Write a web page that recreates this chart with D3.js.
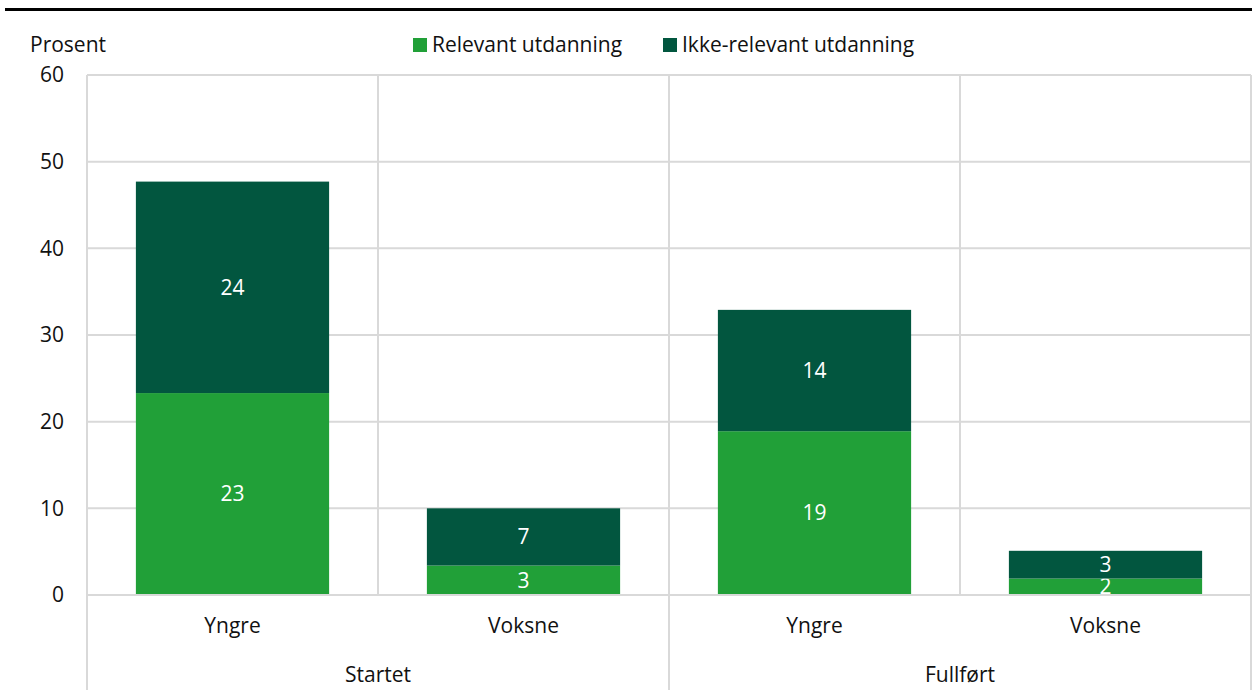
<!DOCTYPE html>
<meta charset="utf-8">
<script src="https://d3js.org/d3.v7.min.js"></script>
<style>
  body { margin: 0; background: #fff; }
  svg { font-family: "Open Sans", "Noto Sans", sans-serif; display: block; }
  .grid line { stroke: #d9d9d9; stroke-width: 2px; }
  .axis text { font-family: "Open Sans", "Noto Sans", sans-serif; font-size: 21px; fill: #111; }
  .barLabel { font-size: 21px; fill: #fff; text-anchor: middle; }
</style>
<body></body>
<script>

// data
var groups = ["Startet", "Fullført"];
var categories = ["Yngre", "Voksne"];
var relevant = [23.3, 3.4, 18.9, 1.9];
var ikkeRelevant = [24.4, 6.6, 14.0, 3.2];
var seriesNames = ["Relevant utdanning", "Ikke-relevant utdanning"];
var colors = ["#21a038", "#02563f"];
var yTicks = [0, 10, 20, 30, 40, 50, 60];

var W = 1252, H = 690;
var margin = {top: 75, right: 1, bottom: 95, left: 87};
var width = W - margin.left - margin.right,
    height = H - margin.top - margin.bottom;

var svg = d3.select("body").append("svg")
    .attr("width", W)
    .attr("height", H);

// top rule
svg.append("line")
  .attr("x1", 5).attr("x2", W)
  .attr("y1", 9.5).attr("y2", 9.5)
  .style("stroke", "#000").style("stroke-width", 3);

var g = svg.append("g")
  .attr("transform", "translate(" + margin.left + "," + margin.top + ")");

// build flat rows
var rows = [];
groups.forEach(function(gr, i) {
  categories.forEach(function(c, j) {
    var k = i * categories.length + j;
    rows.push({key: gr + "|" + c, group: gr, cat: c, rel: relevant[k], ikke: ikkeRelevant[k]});
  });
});

var x = d3.scaleBand()
  .domain(rows.map(function(d) { return d.key; }))
  .range([0, width])
  .paddingInner(0)
  .paddingOuter(0);

var xGroup = d3.scaleBand()
  .domain(groups)
  .range([0, width]);

var y = d3.scaleLinear()
  .domain([0, 60])
  .range([height, 0]);

var barPad = x.bandwidth() * 0.168;

// horizontal grid
var grid = g.append("g").attr("class", "grid");
grid.selectAll(".h").data(yTicks).enter().append("line")
  .attr("x1", 0).attr("x2", width)
  .attr("y1", function(d) { return y(d); })
  .attr("y2", function(d) { return y(d); });

// vertical grid: band edges inside plot
grid.selectAll(".v").data(rows).enter().append("line")
  .attr("x1", function(d) { return x(d.key); })
  .attr("x2", function(d) { return x(d.key); })
  .attr("y1", 0).attr("y2", height);
grid.append("line")
  .attr("x1", width).attr("x2", width)
  .attr("y1", 0).attr("y2", H - margin.top);

// group separators reach to the bottom
grid.selectAll(".gs").data(groups).enter().append("line")
  .attr("x1", function(d) { return xGroup(d); })
  .attr("x2", function(d) { return xGroup(d); })
  .attr("y1", height).attr("y2", H - margin.top);

// stacked bars
var stack = d3.stack().keys(["rel", "ikke"]);
var layers = stack(rows);

var layer = g.selectAll(".layer")
  .data(layers).enter().append("g")
  .attr("class", "layer")
  .style("fill", function(d, i) { return colors[i]; });

layer.selectAll("rect")
  .data(function(d) { return d; })
  .enter().append("rect")
  .attr("x", function(d) { return x(d.data.key) + barPad; })
  .attr("width", x.bandwidth() - 2 * barPad)
  .attr("y", function(d) { return y(d[1]); })
  .attr("height", function(d) { return y(d[0]) - y(d[1]); });

var fmt = d3.format(".0f");
layer.selectAll("text")
  .data(function(d) { return d; })
  .enter().append("text")
  .attr("class", "barLabel")
  .attr("x", function(d) { return x(d.data.key) + x.bandwidth() / 2; })
  .attr("y", function(d) { return (y(d[0]) + y(d[1])) / 2; })
  .attr("dy", "0.35em")
  .text(function(d) { return fmt(d[1] - d[0]); });

// redraw zero line over bars
g.append("line")
  .attr("x1", 0).attr("x2", width)
  .attr("y1", y(0)).attr("y2", y(0))
  .style("stroke", "#d9d9d9").style("stroke-width", 2);

// y axis labels
var yAxis = d3.axisLeft(y).tickValues(yTicks).tickSize(0).tickPadding(23);
g.append("g").attr("class", "y axis").call(yAxis)
  .call(function(s) { s.select(".domain").remove(); });

// x axis labels
var xAxis = d3.axisBottom(x).tickSize(0).tickPadding(23)
  .tickFormat(function(k) { return k.split("|")[1]; });
g.append("g").attr("class", "x axis")
  .attr("transform", "translate(0," + height + ")")
  .call(xAxis)
  .call(function(s) { s.select(".domain").remove(); });

g.append("g").attr("class", "axis")
  .selectAll("text").data(groups).enter().append("text")
  .attr("x", function(d) { return xGroup(d) + xGroup.bandwidth() / 2; })
  .attr("y", height + 80)
  .attr("dy", "0.35em")
  .attr("text-anchor", "middle")
  .text(function(d) { return d; });

// unit label
svg.append("text")
  .attr("x", 30).attr("y", 52)
  .style("font-size", "21px").style("fill", "#111")
  .text("Prosent");

// legend
var legend = svg.append("g").attr("class", "axis");
var legX = [413, 663];
seriesNames.forEach(function(name, i) {
  legend.append("rect")
    .attr("x", legX[i]).attr("y", 38)
    .attr("width", 14).attr("height", 14)
    .style("fill", colors[i]);
  legend.append("text")
    .attr("x", legX[i] + 19).attr("y", 45)
    .attr("dy", "0.35em")
    .text(name);
});
</script>
